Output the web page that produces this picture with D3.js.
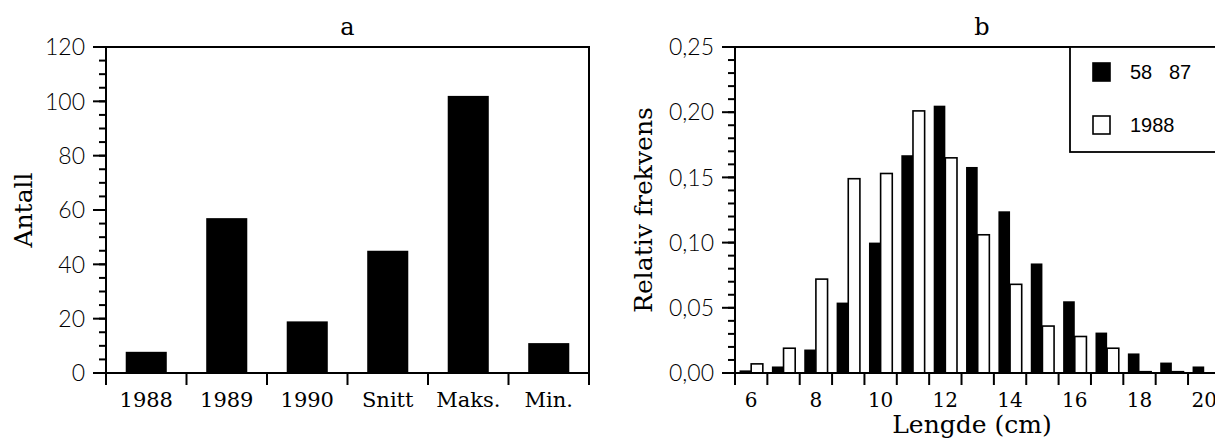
<!DOCTYPE html>
<html>
<head>
<meta charset="utf-8">
<script src="https://cdn.jsdelivr.net/npm/d3@7"></script>
<style>
  body { margin: 0; background: #fff; }
  svg { display: block; }
  .serif { font-family: "DejaVu Serif", serif; fill: #000; }
  .sans { font-family: Lato, "Liberation Sans", sans-serif; font-weight: 300; fill: #000; }
  .narrow { font-family: "Liberation Sans Narrow", "Liberation Sans", sans-serif; fill: #000; }
</style>
</head>
<body>
<svg width="1215" height="445"></svg>
<script>
// panel a
var categories = ["1988", "1989", "1990", "Snitt", "Maks.", "Min."];
var antall = [7.8, 57, 19, 45, 102, 11];
var antallTicks = [0, 20, 40, 60, 80, 100, 120];

// panel b
var lengths = [6, 7, 8, 9, 10, 11, 12, 13, 14, 15, 16, 17, 18, 19, 20];
var freq5887 = [0.002, 0.005, 0.018, 0.054, 0.100, 0.167, 0.205, 0.158, 0.124, 0.084, 0.055, 0.031, 0.015, 0.008, 0.005];
var freq1988 = [0.007, 0.019, 0.072, 0.149, 0.153, 0.201, 0.165, 0.106, 0.068, 0.036, 0.028, 0.019, 0.001, 0.001, 0];
var lengthLabels = [6, 8, 10, 12, 14, 16, 18, 20];
var freqTicks = [0, 0.05, 0.10, 0.15, 0.20, 0.25];
var seriesNames = ["58   87", "1988"];

var svg = d3.select("svg");
var plotTop = 47, plotBottom = 373;

function yAxisTicks(g, y, majors, minorStep, x0, fmt) {
    var lo = y.domain()[0], hi = y.domain()[1];
    var minors = d3.range(lo, hi + minorStep / 2, minorStep);
    g.selectAll(".minor").data(minors).enter().append("line")
        .attr("x1", x0 - 7).attr("x2", x0)
        .attr("y1", function(d) { return y(d); }).attr("y2", function(d) { return y(d); })
        .attr("stroke", "#000").attr("stroke-width", 2);
    g.selectAll(".major").data(majors).enter().append("line")
        .attr("x1", x0 - 13).attr("x2", x0)
        .attr("y1", function(d) { return y(d); }).attr("y2", function(d) { return y(d); })
        .attr("stroke", "#000").attr("stroke-width", 2);
    g.selectAll(".ylab").data(majors).enter().append("text")
        .attr("class", "sans")
        .attr("x", x0 - 21)
        .attr("y", function(d) { return y(d); })
        .attr("dy", "0.36em")
        .attr("text-anchor", "end")
        .style("font-size", "23px")
        .text(fmt);
}

// ---------- panel a ----------
var ax0 = 106, ax1 = 589;
var xa = d3.scaleBand().domain(categories).range([ax0, ax1]).paddingInner(0.49).paddingOuter(0.245);
var ya = d3.scaleLinear().domain([0, 120]).range([plotBottom, plotTop]);
var ga = svg.append("g");

ga.selectAll(".bar").data(categories).enter().append("rect")
    .attr("x", function(d) { return xa(d); })
    .attr("y", function(d, i) { return ya(antall[i]); })
    .attr("width", xa.bandwidth())
    .attr("height", function(d, i) { return plotBottom - ya(antall[i]); })
    .attr("fill", "#000");

yAxisTicks(ga, ya, antallTicks, 5, ax0, function(d) { return d; });

// frame: left, top, right, bottom
ga.append("path")
    .attr("d", "M" + (ax0 - 13) + "," + plotTop + "H" + ax1 + "V" + plotBottom + "H" + (ax0 - 13) + "M" + ax0 + "," + plotTop + "V" + plotBottom)
    .attr("fill", "none").attr("stroke", "#000").attr("stroke-width", 2);

// category boundary ticks
var aStep = xa.step();
ga.selectAll(".xt").data(d3.range(categories.length + 1)).enter().append("line")
    .attr("x1", function(i) { return ax0 + i * aStep; })
    .attr("x2", function(i) { return ax0 + i * aStep; })
    .attr("y1", plotBottom).attr("y2", plotBottom + 12)
    .attr("stroke", "#000").attr("stroke-width", 2);

ga.selectAll(".xl").data(categories).enter().append("text")
    .attr("class", "serif")
    .attr("x", function(d) { return xa(d) + xa.bandwidth() / 2; })
    .attr("y", 407)
    .attr("text-anchor", "middle")
    .style("font-size", "21px")
    .text(function(d) { return d; });

ga.append("text").attr("class", "serif")
    .attr("x", (ax0 + ax1) / 2).attr("y", 35)
    .attr("text-anchor", "middle").style("font-size", "24px").text("a");

ga.append("text").attr("class", "serif")
    .attr("transform", "translate(32," + (plotTop + plotBottom) / 2 + ") rotate(-90)")
    .attr("text-anchor", "middle").style("font-size", "25px").text("Antall");

// ---------- panel b ----------
var bx0 = 735, binW = 32.36;
var xb = d3.scaleLinear().domain([6, 21]).range([bx0, bx0 + 15 * binW]);
var yb = d3.scaleLinear().domain([0, 0.25]).range([plotBottom, plotTop]);
var sub = d3.scaleBand().domain([0, 1]).range([0, binW * 0.72]);
var gb = svg.append("g");

var series = [freq5887, freq1988];
series.forEach(function(vals, s) {
    gb.selectAll(".s" + s).data(lengths).enter().append("rect")
        .attr("x", function(d) { return xb(d) + binW * 0.14 + sub(s); })
        .attr("y", function(d, i) { return yb(vals[i]); })
        .attr("width", sub.bandwidth())
        .attr("height", function(d, i) { return plotBottom - yb(vals[i]); })
        .attr("fill", s === 0 ? "#000" : "#fff")
        .attr("stroke", "#000")
        .attr("stroke-width", s === 0 ? 0 : 1.6);
});

yAxisTicks(gb, yb, freqTicks, 0.01, bx0, function(d) { return d3.format(".2f")(d).replace(".", ","); });

var bx1 = xb(21);
gb.append("path")
    .attr("d", "M" + (bx0 - 13) + "," + plotTop + "H" + bx1 + "V" + plotBottom + "H" + (bx0 - 13) + "M" + bx0 + "," + plotTop + "V" + plotBottom)
    .attr("fill", "none").attr("stroke", "#000").attr("stroke-width", 2);

gb.selectAll(".xt").data(d3.range(6, 22)).enter().append("line")
    .attr("x1", function(d) { return xb(d); })
    .attr("x2", function(d) { return xb(d); })
    .attr("y1", plotBottom).attr("y2", plotBottom + 12)
    .attr("stroke", "#000").attr("stroke-width", 2);

gb.selectAll(".xl").data(lengthLabels).enter().append("text")
    .attr("class", "serif")
    .attr("x", function(d) { return xb(d + 0.5); })
    .attr("y", 407)
    .attr("text-anchor", "middle")
    .style("font-size", "20px")
    .text(function(d) { return d; });

gb.append("text").attr("class", "serif")
    .attr("x", 972).attr("y", 433)
    .attr("text-anchor", "middle").style("font-size", "25px").text("Lengde (cm)");

gb.append("text").attr("class", "serif")
    .attr("x", 982).attr("y", 35)
    .attr("text-anchor", "middle").style("font-size", "24px").text("b");

gb.append("text").attr("class", "serif")
    .attr("transform", "translate(652," + (plotTop + plotBottom) / 2 + ") rotate(-90)")
    .attr("text-anchor", "middle").style("font-size", "25px").text("Relativ frekvens");

// legend
var lg = gb.append("g");
lg.append("rect").attr("x", 1070).attr("y", plotTop).attr("width", bx1 - 1070).attr("height", 105)
    .attr("fill", "#fff").attr("stroke", "#000").attr("stroke-width", 1.8);
seriesNames.forEach(function(name, s) {
    var cy = 72 + s * 53;
    lg.append("rect").attr("x", 1093).attr("y", cy - 9).attr("width", 17).attr("height", 18)
        .attr("fill", s === 0 ? "#000" : "#fff").attr("stroke", "#000").attr("stroke-width", 1.6);
    lg.append("text").attr("class", "narrow")
        .attr("x", 1130).attr("y", cy).attr("dy", "0.36em")
        .style("font-size", "20px").style("white-space", "pre")
        .text(name);
});
</script>
</body>
</html>
